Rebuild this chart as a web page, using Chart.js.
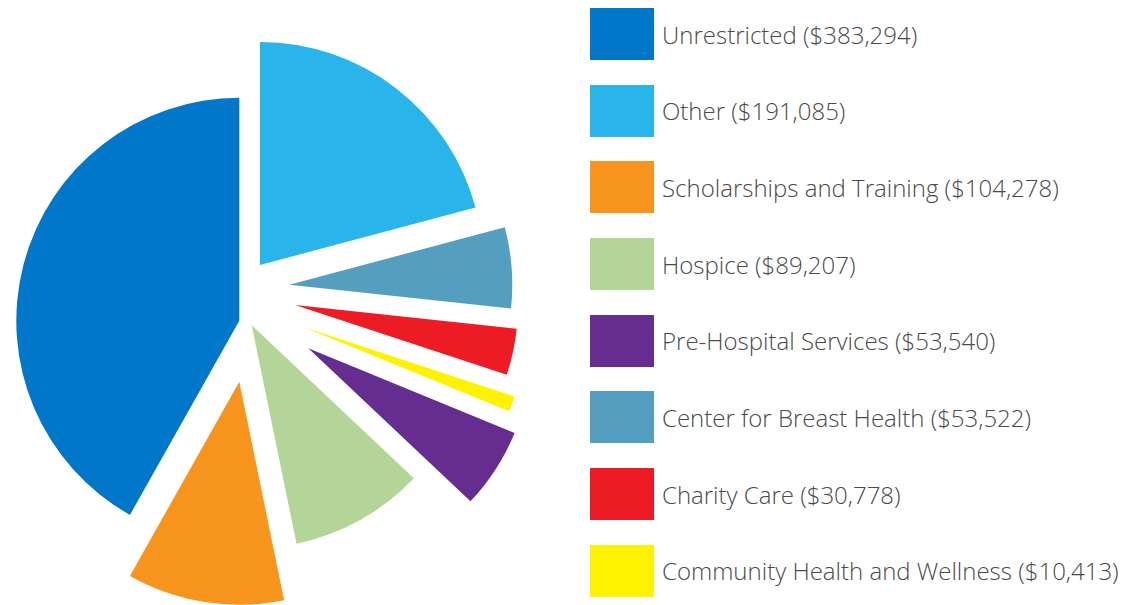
<!DOCTYPE html>
<html>
<head>
<meta charset="utf-8">
<script src="https://cdn.jsdelivr.net/npm/chart.js@4.4.1/dist/chart.umd.min.js"></script>
<style>
  html, body { margin: 0; padding: 0; background: #fff; }
  body { width: 1136px; height: 605px; position: relative; overflow: hidden; }
  #pie-wrap { position: absolute; left: 0; top: 0; width: 560px; height: 605px; }
  #legend { position: absolute; left: 590px; top: 8px; margin: 0; padding: 0; list-style: none; }
  #legend li { display: flex; align-items: center; height: 52px; margin-bottom: 24.7px; }
  #legend .swatch { width: 64px; height: 52px; flex: none; }
  #legend .label {
    margin-left: 8px;
    font-family: "Open Sans", sans-serif;
    font-weight: 300;
    font-size: 24px;
    color: #4a4a4a;
    white-space: nowrap;
  }
</style>
</head>
<body>
<div id="pie-wrap"><canvas id="fundPie"></canvas></div>
<ul id="legend"></ul>

<script>
// --- data (pie order, clockwise from 12 o'clock) ---
const categories = [
  "Other",
  "Center for Breast Health",
  "Charity Care",
  "Community Health and Wellness",
  "Pre-Hospital Services",
  "Hospice",
  "Scholarships and Training",
  "Unrestricted"
];
const amounts = [191085, 53522, 30778, 10413, 53540, 89207, 104278, 383294];

// --- styles ---
const sliceColors = ["#29b5e9", "#549fc0", "#ed1c24", "#fff200", "#662d91", "#b3d597", "#f7941d", "#0077c8"];
// how far each slice is pulled out of the pie (px)
const pullX = [10, 39.3, 45, 52.7, 58.3, 1.7, -10.7, -10.7];
const pullY = [-57, -37.3, -17, 4.7, 26.3, 3.3, 59.7, -1.3];

// Moves every slice by its own pull-out amount after the library lays them out
const explodePlugin = {
  id: "explode",
  afterDatasetUpdate(chart, args) {
    args.meta.data.forEach((arc, i) => {
      arc.x += pullX[i];
      arc.y += pullY[i];
    });
  }
};

const pieCtx = document.getElementById("fundPie").getContext("2d");
const fundPie = new Chart(pieCtx, {
  type: "pie",
  data: {
    labels: categories,
    datasets: [{
      data: amounts,
      backgroundColor: sliceColors,
      borderWidth: 0,
      radius: 223
    }]
  },
  options: {
    responsive: true,
    maintainAspectRatio: false,
    animation: false,
    layout: { padding: { left: 0, right: 60, top: 39, bottom: 0 } },
    plugins: {
      legend: { display: false },
      tooltip: { enabled: false }
    }
  },
  plugins: [explodePlugin]
});

// ==========================================
// LEGEND (largest amount first)
// ==========================================
const legendList = document.getElementById("legend");
categories
  .map((name, i) => ({ name, value: amounts[i], color: sliceColors[i] }))
  .sort((a, b) => b.value - a.value)
  .forEach(item => {
    const li = document.createElement("li");
    li.innerHTML = `<span class="swatch" style="background:${item.color}"></span>` +
      `<span class="label">${item.name} ($${item.value.toLocaleString("en-US")})</span>`;
    legendList.appendChild(li);
  });
</script>
</body>
</html>
